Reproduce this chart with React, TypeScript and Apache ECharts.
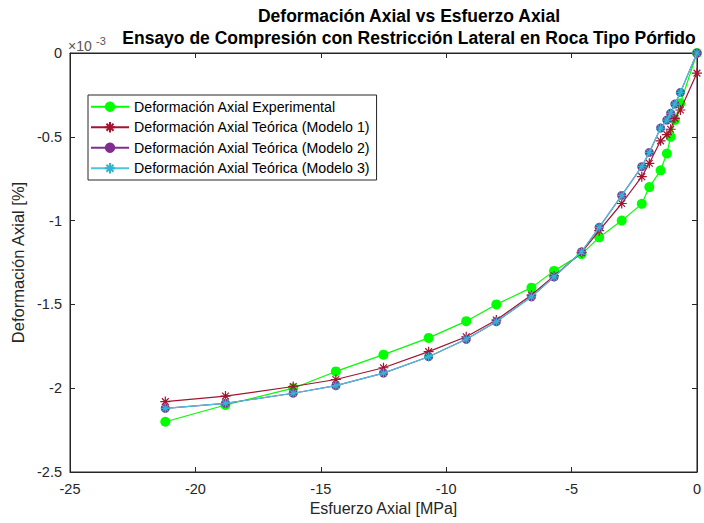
import React, { useEffect, useRef } from "react";
import * as echarts from "echarts";

// Esfuerzo axial [MPa]
const stress = [-21.2, -18.8, -16.1, -14.4, -12.5, -10.7, -9.2, -8.0, -6.6, -5.7, -4.6, -3.9, -3.0, -2.2, -1.9, -1.45, -1.2, -1.05, -0.88, -0.66, 0];
// Deformación axial (x10^-3 %)
const experimental = [-2.2, -2.1, -2.0, -1.9, -1.8, -1.7, -1.6, -1.5, -1.4, -1.3, -1.2, -1.1, -1.0, -0.9, -0.8, -0.7, -0.6, -0.5, -0.4, -0.3, 0];
const model1 = [-2.08, -2.047, -1.99, -1.948, -1.878, -1.782, -1.693, -1.593, -1.444, -1.33, -1.19, -1.06, -0.898, -0.738, -0.658, -0.524, -0.487, -0.455, -0.39, -0.34, -0.12];
const model2 = [-2.12, -2.09, -2.03, -1.985, -1.91, -1.812, -1.708, -1.603, -1.455, -1.336, -1.186, -1.04, -0.85, -0.678, -0.593, -0.448, -0.4, -0.36, -0.305, -0.235, 0];
const model3 = [-2.12, -2.09, -2.03, -1.985, -1.91, -1.812, -1.708, -1.603, -1.455, -1.336, -1.186, -1.04, -0.85, -0.678, -0.593, -0.448, -0.4, -0.36, -0.305, -0.235, 0];

const seriesNames = [
  "Deformación Axial Experimental",
  "Deformación Axial Teórica (Modelo 1)",
  "Deformación Axial Teórica (Modelo 2)",
  "Deformación Axial Teórica (Modelo 3)",
];
const xTicks = { min: -25, max: 0, interval: 5 };
const yTicks = { min: -2.5, max: 0, interval: 0.5 };

const FONT = '"Liberation Sans", Arial, Helvetica, sans-serif';
const AX = "#262626";
const ASTERISK = "path://M5,0L5,10M0,5L10,5M1.6,1.6L8.4,8.4M1.6,8.4L8.4,1.6";

const pairs = (ys: number[]) => stress.map((x, i) => [x, ys[i]]);

export default function App() {
  const ref = useRef<HTMLDivElement>(null);
  useEffect(() => {
    document.body.style.margin = "0";
    const chart = echarts.init(ref.current!, null, { renderer: "svg" });
    const baseAxis = {
      type: "value" as const,
      axisLine: { show: true, onZero: false, lineStyle: { color: AX, width: 1 } },
      axisTick: { show: true, inside: true, length: 5, lineStyle: { color: AX } },
      splitLine: { show: false },
    };
    const option: any = {
      animation: false,
      backgroundColor: "#fff",
      textStyle: { fontFamily: FONT },
      grid: { left: 70, right: 6, top: 53, bottom: 51, show: true, borderColor: AX, borderWidth: 1 },
      xAxis: [
        {
          ...baseAxis,
          position: "bottom",
          ...xTicks,
          axisLabel: { color: AX, fontSize: 14.5, fontFamily: FONT, margin: 9 },
          name: "Esfuerzo Axial [MPa]",
          nameLocation: "middle",
          nameGap: 28,
          nameTextStyle: { color: AX, fontSize: 16, fontFamily: FONT },
        },
        { ...baseAxis, position: "top", ...xTicks, axisLabel: { show: false } },
      ],
      yAxis: [
        {
          ...baseAxis,
          position: "left",
          ...yTicks,
          axisLabel: { color: AX, fontSize: 14.5, fontFamily: FONT, margin: 8 },
          name: "Deformación Axial [%]",
          nameLocation: "middle",
          nameGap: 40,
          nameTextStyle: { color: AX, fontSize: 16.5, fontFamily: FONT },
        },
        { ...baseAxis, position: "right", ...yTicks, axisLabel: { show: false } },
      ],
      legend: {
        orient: "vertical",
        left: 88,
        top: 95,
        padding: [4, 6, 4, 2],
        itemWidth: 38,
        itemHeight: 13,
        itemGap: 5,
        borderColor: AX,
        borderWidth: 1,
        backgroundColor: "#fff",
        textStyle: { color: "#000", fontSize: 14.2, fontFamily: FONT, lineHeight: 15.5 },
        data: seriesNames,
      },
      graphic: [
        {
          type: "text",
          x: 409,
          y: 16,
          style: { text: "Deformación Axial vs Esfuerzo Axial", font: `bold 17.5px ${FONT}`, fill: "#000", textAlign: "center", textVerticalAlign: "middle" },
        },
        {
          type: "text",
          x: 409,
          y: 38,
          style: { text: "Ensayo de Compresión con Restricción Lateral en Roca Tipo Pórfido", font: `bold 17.5px ${FONT}`, fill: "#000", textAlign: "center", textVerticalAlign: "middle" },
        },
        {
          type: "text",
          x: 68,
          y: 46,
          style: { text: "×10", font: `14px ${FONT}`, fill: "#555", textAlign: "left", textVerticalAlign: "middle" },
        },
        {
          type: "text",
          x: 96,
          y: 41,
          style: { text: "-3", font: `11px ${FONT}`, fill: "#555", textAlign: "left", textVerticalAlign: "middle" },
        },
      ],
      series: [
        {
          name: seriesNames[0],
          type: "line",
          data: pairs(experimental),
          symbol: "circle",
          symbolSize: 10,
          lineStyle: { color: "#00ff00", width: 1.2 },
          itemStyle: { color: "#00ff00" },
          z: 2,
        },
        {
          name: seriesNames[1],
          type: "line",
          data: pairs(model1),
          symbol: ASTERISK,
          symbolSize: 10,
          lineStyle: { color: "#A2142F", width: 1.2 },
          itemStyle: { color: "#A2142F", borderColor: "#A2142F", borderWidth: 1.2 },
          z: 3,
        },
        {
          name: seriesNames[2],
          type: "line",
          data: pairs(model2),
          symbol: "circle",
          symbolSize: 9,
          lineStyle: { color: "#7E2F8E", width: 1.2 },
          itemStyle: { color: "#7E2F8E" },
          z: 4,
        },
        {
          name: seriesNames[3],
          type: "line",
          data: pairs(model3),
          symbol: ASTERISK,
          symbolSize: 9,
          lineStyle: { color: "#4DC3E0", width: 1.2 },
          itemStyle: { color: "#2FB5CF", borderColor: "#2FB5CF", borderWidth: 1.2 },
          z: 5,
        },
      ],
    };
    chart.setOption(option);
    return () => chart.dispose();
  }, []);
  return <div ref={ref} style={{ width: 704, height: 523 }} />;
}
